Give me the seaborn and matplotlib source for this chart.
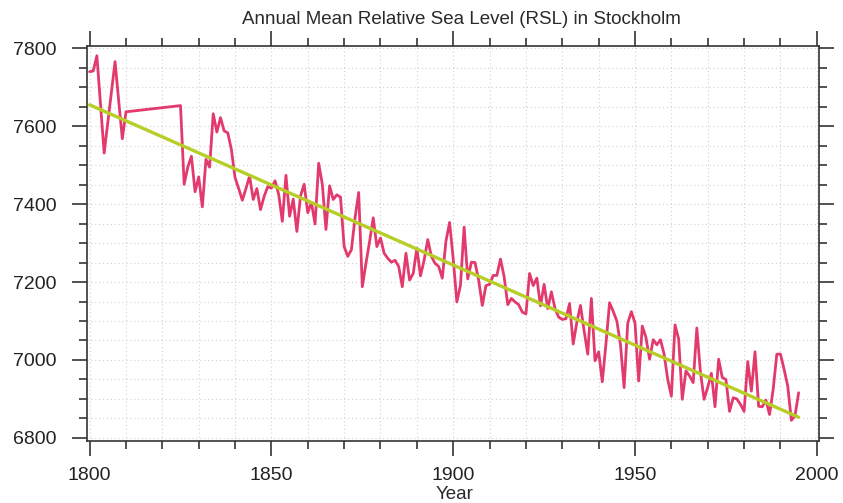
import numpy as np
import pandas as pd
import matplotlib
matplotlib.use("Agg")
import matplotlib.pyplot as plt
from matplotlib.ticker import MultipleLocator
import seaborn as sns

# ---- data ----
years = [1800, 1801, 1802, 1803, 1804, 1805, 1806, 1807, 1808, 1809, 1810,
         1825, 1826, 1827, 1828, 1829, 1830, 1831, 1832, 1833, 1834, 1835, 1836, 1837, 1838, 1839,
         1840, 1841, 1842, 1843, 1844, 1845, 1846, 1847, 1848, 1849,
         1850, 1851, 1852, 1853, 1854, 1855, 1856, 1857, 1858, 1859,
         1860, 1861, 1862, 1863, 1864, 1865, 1866, 1867, 1868, 1869,
         1870, 1871, 1872, 1873, 1874, 1875, 1876, 1877, 1878, 1879,
         1880, 1881, 1882, 1883, 1884, 1885, 1886, 1887, 1888, 1889,
         1890, 1891, 1892, 1893, 1894, 1895, 1896, 1897, 1898, 1899,
         1900, 1901, 1902, 1903, 1904, 1905, 1906, 1907, 1908, 1909,
         1910, 1911, 1912, 1913, 1914, 1915, 1916, 1917, 1918, 1919,
         1920, 1921, 1922, 1923, 1924, 1925, 1926, 1927, 1928, 1929,
         1930, 1931, 1932, 1933, 1934, 1935, 1936, 1937, 1938, 1939,
         1940, 1941, 1942, 1943, 1944, 1945, 1946, 1947, 1948, 1949,
         1950, 1951, 1952, 1953, 1954, 1955, 1956, 1957, 1958, 1959,
         1960, 1961, 1962, 1963, 1964, 1965, 1966, 1967, 1968, 1969,
         1970, 1971, 1972, 1973, 1974, 1975, 1976, 1977, 1978, 1979,
         1980, 1981, 1982, 1983, 1984, 1985, 1986, 1987, 1988, 1989,
         1990, 1991, 1992, 1993, 1994, 1995]

rsl = [7740, 7742, 7781, 7655, 7531, 7610, 7690, 7766, 7665, 7568, 7637,
       7653, 7451, 7495, 7523, 7432, 7470, 7393, 7515, 7495, 7632, 7585, 7622, 7588, 7583, 7540,
       7468, 7440, 7410, 7440, 7472, 7412, 7440, 7386, 7420, 7445,
       7441, 7460, 7425, 7356, 7474, 7369, 7413, 7330, 7421, 7451,
       7378, 7404, 7349, 7505, 7451, 7335, 7447, 7412, 7424, 7418,
       7291, 7266, 7283, 7365, 7430, 7188, 7248, 7304, 7365, 7291,
       7313, 7274, 7261, 7251, 7256, 7240, 7188, 7274, 7205, 7222,
       7287, 7216, 7256, 7309, 7266, 7248, 7240, 7210, 7305, 7353,
       7260, 7149, 7192, 7341, 7208, 7251, 7250, 7205, 7140, 7191,
       7194, 7217, 7217, 7259, 7214, 7142, 7158, 7149, 7142, 7123,
       7118, 7222, 7191, 7210, 7139, 7194, 7132, 7175, 7132, 7110,
       7104, 7106, 7145, 7041, 7097, 7140, 7075, 7015, 7158, 6998,
       7021, 6944, 7041, 7147, 7125, 7100, 7040, 6929, 7095, 7124,
       7095, 6946, 7087, 7058, 7002, 7052, 7039, 7052, 7015, 6950,
       6907, 7090, 7054, 6899, 6972, 6959, 6942, 7082, 6968, 6899,
       6930, 6966, 6880, 7002, 6955, 6950, 6868, 6903, 6900, 6886,
       6868, 6996, 6920, 7021, 6881, 6880, 6897, 6860, 6925, 7015,
       7015, 6976, 6933, 6845, 6857, 6916]

trend_years = [1800, 1995]
trend_values = [7655, 6853]

title = "Annual Mean Relative Sea Level (RSL) in Stockholm"
xlabel = "Year"
xticks = [1800, 1850, 1900, 1950, 2000]
yticks = [6800, 7000, 7200, 7400, 7600, 7800]

# ---- styling ----
sns.set_style("white")
plt.rcParams["font.family"] = ["Liberation Sans", "DejaVu Sans"]

W, H = 843, 503
fig = plt.figure(figsize=(W / 100, H / 100), dpi=100)
left, right, top, bottom = 86.7, 819.0, 46.0, 441.0
ax = fig.add_axes([left / W, 1 - bottom / H, (right - left) / W, (bottom - top) / H])

df = pd.DataFrame({"year": years, "rsl": rsl})
tdf = pd.DataFrame({"year": trend_years, "rsl": trend_values})

sns.lineplot(data=df, x="year", y="rsl", ax=ax, color="#e23a6c",
             linewidth=2.0, sort=False, estimator=None, zorder=3)
sns.lineplot(data=tdf, x="year", y="rsl", ax=ax, color="#b6ce26",
             linewidth=2.4, sort=False, estimator=None, zorder=4)

ax.set_xlim(1799.2, 2000.6)
ax.set_ylim(6792, 7806)
ax.set_xticks(xticks)
ax.set_yticks(yticks)
ax.xaxis.set_minor_locator(MultipleLocator(10))
ax.yaxis.set_minor_locator(MultipleLocator(50))

ax.grid(which="both", color="#d2d2d2", linestyle=(0, (1, 2.5)), linewidth=0.8)
ax.set_axisbelow(True)

for s in ax.spines.values():
    s.set_visible(True)
    s.set_color("#333333")
    s.set_linewidth(1.2)

ax.tick_params(which="both", direction="out", color="#333333", width=1.2,
               top=True, right=True, bottom=True, left=True,
               labeltop=False, labelright=False)
ax.tick_params(which="major", length=11)
ax.tick_params(which="minor", length=6)
ax.tick_params(axis="x", which="major", labelsize=14, pad=8, labelcolor="#222222")
ax.tick_params(axis="y", which="major", labelsize=14, pad=11, labelcolor="#222222")

ax.set_xlabel("")
ax.set_ylabel("")

fig.text(461 / W, 1 - 20 / H, title, ha="center", va="center",
         fontsize=13.5, color="#2a2a2a")
fig.text(455 / W, 1 - 486 / H, xlabel, ha="center", va="top",
         fontsize=13.5, color="#2a2a2a")

fig.savefig("out.png", dpi=100)
